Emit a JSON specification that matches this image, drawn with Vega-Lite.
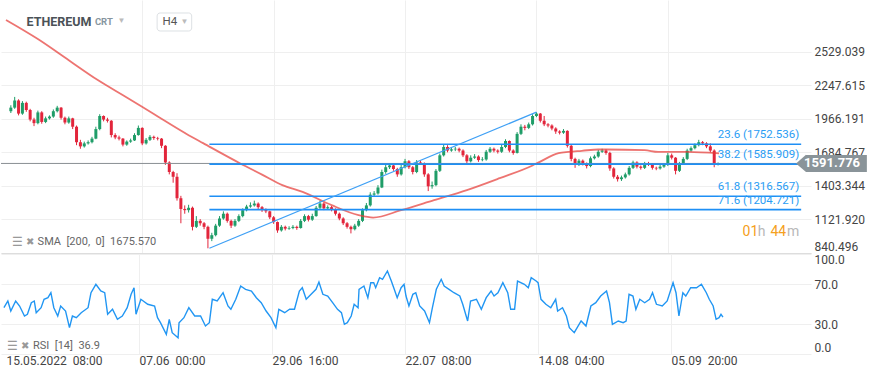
{
"$schema": "https://vega.github.io/schema/vega-lite/v6.json",
"padding": 0,
"background": "white",
"spacing": 0,
"config": {"view": {"stroke": null}, "axis": {"labelFont": "Roboto", "labelFontSize": 12, "labelColor": "#444444", "gridColor": "#efefef", "ticks": false, "domain": false, "labelOverlap": false}, "text": {"font": "Roboto"}},
"datasets": {
"candles": [
{"t":0,"o":2030,"h":2080,"l":2015,"c":2060},{"t":4,"o":2060,"h":2150,"l":2050,"c":2120},{"t":8,"o":2120,"h":2130,"l":1995,"c":2010},{"t":12,"o":2010,"h":2115,"l":2000,"c":2100},{"t":16,"o":2100,"h":2110,"l":2025,"c":2040},{"t":20,"o":2040,"h":2050,"l":1945,"c":1960},{"t":24,"o":1960,"h":1975,"l":1905,"c":1930},{"t":28,"o":1930,"h":2035,"l":1920,"c":2020},{"t":32,"o":2020,"h":2030,"l":1925,"c":1940},{"t":36,"o":1940,"h":1985,"l":1930,"c":1970},{"t":40,"o":1970,"h":1995,"l":1960,"c":1985},{"t":44,"o":1985,"h":2045,"l":1975,"c":2030},{"t":48,"o":2030,"h":2075,"l":2020,"c":2060},{"t":52,"o":2060,"h":2065,"l":1960,"c":1975},{"t":56,"o":1975,"h":1985,"l":1920,"c":1935},{"t":60,"o":1935,"h":1985,"l":1925,"c":1970},{"t":64,"o":1970,"h":1975,"l":1880,"c":1900},{"t":68,"o":1900,"h":1910,"l":1745,"c":1770},{"t":72,"o":1770,"h":1790,"l":1715,"c":1735},{"t":76,"o":1735,"h":1775,"l":1725,"c":1760},{"t":80,"o":1760,"h":1785,"l":1750,"c":1770},{"t":84,"o":1770,"h":1815,"l":1760,"c":1800},{"t":88,"o":1800,"h":1900,"l":1795,"c":1880},{"t":92,"o":1880,"h":2005,"l":1870,"c":1990},{"t":96,"o":1990,"h":1995,"l":1945,"c":1960},{"t":100,"o":1960,"h":1975,"l":1935,"c":1950},{"t":104,"o":1950,"h":1955,"l":1810,"c":1830},{"t":108,"o":1830,"h":1845,"l":1795,"c":1810},{"t":112,"o":1810,"h":1825,"l":1785,"c":1800},{"t":116,"o":1800,"h":1805,"l":1735,"c":1750},{"t":120,"o":1750,"h":1785,"l":1740,"c":1775},{"t":124,"o":1775,"h":1800,"l":1765,"c":1785},{"t":128,"o":1785,"h":1845,"l":1780,"c":1830},{"t":132,"o":1830,"h":1910,"l":1825,"c":1890},{"t":136,"o":1890,"h":1895,"l":1745,"c":1760},{"t":140,"o":1760,"h":1805,"l":1750,"c":1790},{"t":144,"o":1790,"h":1830,"l":1780,"c":1815},{"t":148,"o":1815,"h":1825,"l":1790,"c":1805},{"t":152,"o":1805,"h":1815,"l":1785,"c":1800},{"t":156,"o":1800,"h":1805,"l":1720,"c":1740},{"t":160,"o":1740,"h":1745,"l":1580,"c":1600},{"t":164,"o":1600,"h":1610,"l":1500,"c":1520},{"t":168,"o":1520,"h":1530,"l":1430,"c":1480},{"t":172,"o":1480,"h":1510,"l":1280,"c":1300},{"t":176,"o":1300,"h":1320,"l":1090,"c":1210},{"t":180,"o":1210,"h":1240,"l":1170,"c":1200},{"t":184,"o":1200,"h":1245,"l":1180,"c":1220},{"t":188,"o":1220,"h":1230,"l":1030,"c":1060},{"t":192,"o":1060,"h":1150,"l":1050,"c":1110},{"t":196,"o":1110,"h":1125,"l":1070,"c":1090},{"t":200,"o":1090,"h":1100,"l":1040,"c":1060},{"t":204,"o":1060,"h":1070,"l":880,"c":960},{"t":208,"o":960,"h":1010,"l":940,"c":990},{"t":212,"o":990,"h":1085,"l":980,"c":1070},{"t":216,"o":1070,"h":1150,"l":1060,"c":1130},{"t":220,"o":1130,"h":1190,"l":1120,"c":1170},{"t":224,"o":1170,"h":1180,"l":1095,"c":1110},{"t":228,"o":1110,"h":1120,"l":1050,"c":1070},{"t":232,"o":1070,"h":1125,"l":1060,"c":1110},{"t":236,"o":1110,"h":1165,"l":1100,"c":1150},{"t":240,"o":1150,"h":1215,"l":1140,"c":1200},{"t":244,"o":1200,"h":1245,"l":1190,"c":1230},{"t":248,"o":1230,"h":1265,"l":1220,"c":1240},{"t":252,"o":1240,"h":1280,"l":1230,"c":1255},{"t":256,"o":1255,"h":1265,"l":1210,"c":1225},{"t":260,"o":1225,"h":1235,"l":1185,"c":1200},{"t":264,"o":1200,"h":1215,"l":1175,"c":1190},{"t":268,"o":1190,"h":1195,"l":1125,"c":1140},{"t":272,"o":1140,"h":1150,"l":1085,"c":1100},{"t":276,"o":1100,"h":1105,"l":1010,"c":1030},{"t":280,"o":1030,"h":1075,"l":1020,"c":1060},{"t":284,"o":1060,"h":1070,"l":1030,"c":1045},{"t":288,"o":1045,"h":1065,"l":1035,"c":1050},{"t":292,"o":1050,"h":1075,"l":1040,"c":1060},{"t":296,"o":1060,"h":1070,"l":1035,"c":1050},{"t":300,"o":1050,"h":1125,"l":1045,"c":1110},{"t":304,"o":1110,"h":1165,"l":1100,"c":1150},{"t":308,"o":1150,"h":1160,"l":1105,"c":1120},{"t":312,"o":1120,"h":1170,"l":1110,"c":1150},{"t":316,"o":1150,"h":1235,"l":1145,"c":1220},{"t":320,"o":1220,"h":1280,"l":1210,"c":1255},{"t":324,"o":1255,"h":1265,"l":1200,"c":1215},{"t":328,"o":1215,"h":1240,"l":1205,"c":1225},{"t":332,"o":1225,"h":1235,"l":1190,"c":1205},{"t":336,"o":1205,"h":1215,"l":1155,"c":1170},{"t":340,"o":1170,"h":1180,"l":1115,"c":1130},{"t":344,"o":1130,"h":1140,"l":1075,"c":1090},{"t":348,"o":1090,"h":1100,"l":1045,"c":1060},{"t":352,"o":1060,"h":1070,"l":1005,"c":1040},{"t":356,"o":1040,"h":1085,"l":1030,"c":1070},{"t":360,"o":1070,"h":1125,"l":1060,"c":1110},{"t":364,"o":1110,"h":1215,"l":1100,"c":1200},{"t":368,"o":1200,"h":1260,"l":1190,"c":1240},{"t":372,"o":1240,"h":1350,"l":1230,"c":1330},{"t":376,"o":1330,"h":1360,"l":1315,"c":1340},{"t":380,"o":1340,"h":1410,"l":1330,"c":1390},{"t":384,"o":1390,"h":1540,"l":1385,"c":1520},{"t":388,"o":1520,"h":1585,"l":1505,"c":1560},{"t":392,"o":1560,"h":1595,"l":1545,"c":1575},{"t":396,"o":1575,"h":1585,"l":1530,"c":1545},{"t":400,"o":1545,"h":1555,"l":1480,"c":1500},{"t":404,"o":1500,"h":1580,"l":1490,"c":1560},{"t":408,"o":1560,"h":1630,"l":1550,"c":1610},{"t":412,"o":1610,"h":1620,"l":1545,"c":1560},{"t":416,"o":1560,"h":1570,"l":1500,"c":1520},{"t":420,"o":1520,"h":1620,"l":1510,"c":1600},{"t":424,"o":1600,"h":1615,"l":1580,"c":1590},{"t":428,"o":1590,"h":1600,"l":1480,"c":1500},{"t":432,"o":1500,"h":1510,"l":1360,"c":1400},{"t":436,"o":1400,"h":1440,"l":1380,"c":1410},{"t":440,"o":1410,"h":1545,"l":1400,"c":1530},{"t":444,"o":1530,"h":1675,"l":1520,"c":1660},{"t":448,"o":1660,"h":1750,"l":1650,"c":1730},{"t":452,"o":1730,"h":1745,"l":1685,"c":1700},{"t":456,"o":1700,"h":1730,"l":1690,"c":1710},{"t":460,"o":1710,"h":1730,"l":1695,"c":1715},{"t":464,"o":1715,"h":1725,"l":1685,"c":1700},{"t":468,"o":1700,"h":1710,"l":1645,"c":1660},{"t":472,"o":1660,"h":1670,"l":1590,"c":1610},{"t":476,"o":1610,"h":1660,"l":1600,"c":1640},{"t":480,"o":1640,"h":1670,"l":1630,"c":1650},{"t":484,"o":1650,"h":1660,"l":1605,"c":1620},{"t":488,"o":1620,"h":1645,"l":1610,"c":1625},{"t":492,"o":1625,"h":1705,"l":1615,"c":1690},{"t":496,"o":1690,"h":1730,"l":1680,"c":1715},{"t":500,"o":1715,"h":1725,"l":1685,"c":1700},{"t":504,"o":1700,"h":1710,"l":1675,"c":1690},{"t":508,"o":1690,"h":1750,"l":1680,"c":1730},{"t":512,"o":1730,"h":1795,"l":1720,"c":1780},{"t":516,"o":1780,"h":1785,"l":1685,"c":1700},{"t":520,"o":1700,"h":1710,"l":1665,"c":1680},{"t":524,"o":1680,"h":1855,"l":1675,"c":1840},{"t":528,"o":1840,"h":1920,"l":1830,"c":1900},{"t":532,"o":1900,"h":1915,"l":1870,"c":1890},{"t":536,"o":1890,"h":1935,"l":1880,"c":1920},{"t":540,"o":1920,"h":2005,"l":1910,"c":1990},{"t":544,"o":1990,"h":2022,"l":1980,"c":2010},{"t":548,"o":2010,"h":2015,"l":1935,"c":1950},{"t":552,"o":1950,"h":1990,"l":1905,"c":1920},{"t":556,"o":1920,"h":1930,"l":1895,"c":1910},{"t":560,"o":1910,"h":1920,"l":1870,"c":1885},{"t":564,"o":1885,"h":1895,"l":1840,"c":1860},{"t":568,"o":1860,"h":1870,"l":1835,"c":1850},{"t":572,"o":1850,"h":1880,"l":1840,"c":1865},{"t":576,"o":1865,"h":1870,"l":1725,"c":1740},{"t":580,"o":1740,"h":1750,"l":1610,"c":1630},{"t":584,"o":1630,"h":1640,"l":1555,"c":1580},{"t":588,"o":1580,"h":1630,"l":1570,"c":1615},{"t":592,"o":1615,"h":1625,"l":1575,"c":1590},{"t":596,"o":1590,"h":1600,"l":1550,"c":1570},{"t":600,"o":1570,"h":1650,"l":1560,"c":1635},{"t":604,"o":1635,"h":1665,"l":1625,"c":1650},{"t":608,"o":1650,"h":1705,"l":1640,"c":1690},{"t":612,"o":1690,"h":1715,"l":1680,"c":1700},{"t":616,"o":1700,"h":1710,"l":1665,"c":1680},{"t":620,"o":1680,"h":1690,"l":1530,"c":1550},{"t":624,"o":1550,"h":1560,"l":1465,"c":1480},{"t":628,"o":1480,"h":1495,"l":1440,"c":1460},{"t":632,"o":1460,"h":1490,"l":1445,"c":1475},{"t":636,"o":1475,"h":1515,"l":1465,"c":1500},{"t":640,"o":1500,"h":1570,"l":1490,"c":1555},{"t":644,"o":1555,"h":1615,"l":1545,"c":1600},{"t":648,"o":1600,"h":1610,"l":1550,"c":1565},{"t":652,"o":1565,"h":1575,"l":1540,"c":1555},{"t":656,"o":1555,"h":1605,"l":1545,"c":1590},{"t":660,"o":1590,"h":1605,"l":1570,"c":1585},{"t":664,"o":1585,"h":1595,"l":1540,"c":1555},{"t":668,"o":1555,"h":1565,"l":1535,"c":1550},{"t":672,"o":1550,"h":1580,"l":1540,"c":1565},{"t":676,"o":1565,"h":1595,"l":1555,"c":1580},{"t":680,"o":1580,"h":1680,"l":1570,"c":1660},{"t":684,"o":1660,"h":1675,"l":1625,"c":1640},{"t":688,"o":1640,"h":1645,"l":1500,"c":1530},{"t":692,"o":1530,"h":1605,"l":1520,"c":1590},{"t":696,"o":1590,"h":1645,"l":1580,"c":1630},{"t":700,"o":1630,"h":1715,"l":1620,"c":1700},{"t":704,"o":1700,"h":1735,"l":1690,"c":1720},{"t":708,"o":1720,"h":1760,"l":1710,"c":1745},{"t":712,"o":1745,"h":1790,"l":1735,"c":1770},{"t":716,"o":1770,"h":1780,"l":1745,"c":1760},{"t":720,"o":1760,"h":1770,"l":1720,"c":1735},{"t":724,"o":1735,"h":1760,"l":1685,"c":1700},{"t":728,"o":1700,"h":1710,"l":1560,"c":1580},{"t":732,"o":1580,"h":1600,"l":1575,"c":1592}
],
"sma": [
{"t":-5,"v":2795},{"t":28,"v":2635},{"t":60,"v":2457},{"t":90,"v":2291},{"t":120,"v":2145},{"t":148,"v":2006},{"t":184,"v":1829},{"t":199,"v":1762},{"t":237,"v":1594},{"t":260,"v":1498},{"t":281,"v":1410},{"t":302,"v":1353},{"t":332,"v":1242},{"t":360,"v":1158},{"t":375,"v":1138},{"t":404,"v":1200},{"t":438,"v":1284},{"t":472,"v":1368},{"t":506,"v":1468},{"t":540,"v":1575},{"t":547,"v":1603},{"t":567,"v":1678},{"t":577,"v":1689},{"t":591,"v":1698},{"t":608,"v":1709},{"t":616,"v":1709},{"t":656,"v":1703},{"t":670,"v":1689},{"t":700,"v":1689},{"t":733,"v":1676}
],
"rsi": [
{"t":-2,"r":46.3},{"t":2,"r":53},{"t":5,"r":43},{"t":10,"r":53},{"t":14,"r":48},{"t":19,"r":38},{"t":22,"r":39.7},{"t":26,"r":51.3},{"t":29,"r":53},{"t":31,"r":41.3},{"t":36,"r":46.3},{"t":39,"r":54.7},{"t":43,"r":56.3},{"t":46,"r":61.3},{"t":49,"r":46.3},{"t":53,"r":38},{"t":56,"r":48},{"t":61,"r":43},{"t":65,"r":26.3},{"t":68,"r":38},{"t":72,"r":36.3},{"t":77,"r":41.3},{"t":84,"r":46.3},{"t":87,"r":61.3},{"t":92,"r":69.7},{"t":97,"r":63},{"t":101,"r":61.3},{"t":104,"r":39.7},{"t":109,"r":44.7},{"t":114,"r":34.7},{"t":119,"r":38},{"t":124,"r":46.3},{"t":128,"r":59.7},{"t":131,"r":66.3},{"t":133,"r":39.7},{"t":138,"r":54.7},{"t":145,"r":49.7},{"t":152,"r":48},{"t":155,"r":36.3},{"t":158,"r":31.3},{"t":164,"r":19.7},{"t":167,"r":34.7},{"t":170,"r":21.3},{"t":176,"r":16.3},{"t":177,"r":31.3},{"t":182,"r":36.3},{"t":187,"r":46.3},{"t":193,"r":38},{"t":199,"r":38},{"t":204,"r":28},{"t":208,"r":31.3},{"t":211,"r":54.7},{"t":216,"r":53},{"t":222,"r":61.3},{"t":227,"r":48},{"t":230,"r":44.7},{"t":235,"r":54.7},{"t":240,"r":68},{"t":245,"r":64.7},{"t":251,"r":63},{"t":256,"r":56.3},{"t":261,"r":51.3},{"t":266,"r":43},{"t":271,"r":36.3},{"t":276,"r":26.3},{"t":279,"r":44.7},{"t":285,"r":41.3},{"t":290,"r":44.7},{"t":295,"r":44.7},{"t":300,"r":63},{"t":303,"r":66.3},{"t":307,"r":54.7},{"t":312,"r":59.7},{"t":317,"r":64.7},{"t":320,"r":72},{"t":324,"r":59.7},{"t":329,"r":58},{"t":334,"r":51.3},{"t":339,"r":44.7},{"t":343,"r":41.3},{"t":346,"r":29.7},{"t":349,"r":31.3},{"t":353,"r":38},{"t":356,"r":49.7},{"t":360,"r":46.3},{"t":361,"r":64.7},{"t":366,"r":68},{"t":370,"r":56.3},{"t":373,"r":71.3},{"t":376,"r":71.3},{"t":378,"r":66.3},{"t":382,"r":76.3},{"t":385,"r":74.7},{"t":390,"r":83},{"t":394,"r":73},{"t":397,"r":64.7},{"t":400,"r":56.3},{"t":404,"r":66.3},{"t":407,"r":69.7},{"t":409,"r":58},{"t":412,"r":48},{"t":416,"r":59.7},{"t":419,"r":61.3},{"t":423,"r":48},{"t":428,"r":43},{"t":433,"r":31.3},{"t":436,"r":46.3},{"t":440,"r":64.7},{"t":445,"r":74.7},{"t":448,"r":68},{"t":453,"r":64.7},{"t":458,"r":61.3},{"t":464,"r":58},{"t":467,"r":49.7},{"t":472,"r":33},{"t":475,"r":53},{"t":481,"r":54.7},{"t":486,"r":44.7},{"t":491,"r":56.3},{"t":496,"r":63},{"t":499,"r":58},{"t":503,"r":61.3},{"t":508,"r":71.3},{"t":513,"r":61.3},{"t":516,"r":44.7},{"t":520,"r":44.7},{"t":523,"r":73},{"t":530,"r":69.7},{"t":534,"r":66.3},{"t":537,"r":76.3},{"t":542,"r":73},{"t":544,"r":71.3},{"t":547,"r":54.7},{"t":552,"r":49.7},{"t":557,"r":46.3},{"t":562,"r":54.7},{"t":564,"r":43},{"t":569,"r":46.3},{"t":573,"r":38},{"t":576,"r":26.3},{"t":581,"r":21.3},{"t":588,"r":33},{"t":593,"r":28},{"t":598,"r":48},{"t":603,"r":51.3},{"t":608,"r":58},{"t":614,"r":63},{"t":617,"r":51.3},{"t":620,"r":29.7},{"t":626,"r":33},{"t":631,"r":31.3},{"t":634,"r":33},{"t":637,"r":59.7},{"t":641,"r":58},{"t":644,"r":44.7},{"t":648,"r":54.7},{"t":653,"r":51.3},{"t":658,"r":54.7},{"t":661,"r":61.3},{"t":665,"r":49.7},{"t":671,"r":48},{"t":676,"r":53},{"t":682,"r":71.3},{"t":685,"r":61.3},{"t":688,"r":38},{"t":692,"r":61.3},{"t":695,"r":58},{"t":700,"r":66.3},{"t":706,"r":66.3},{"t":711,"r":69.7},{"t":716,"r":61.3},{"t":719,"r":54.7},{"t":723,"r":48},{"t":726,"r":34.7},{"t":729,"r":36.3},{"t":731,"r":39.7},{"t":733,"r":36.9}
],
"fib": [
{"label":"23.6 (1752.536)","price":1752.536},{"label":"38.2 (1585.909)","price":1585.909},{"label":"61.8 (1316.567)","price":1316.567},{"label":"71.6 (1204.721)","price":1204.721}
],
"trend": [{"t":205.5,"p":880.6},{"t":544,"p":2021.9}],
"last": [{"price":1591.776}],
"one": [{}]
},
"vconcat": [
{"width": 810, "height": 253,
"layer": [
{"data": {"name": "candles"}, "mark": {"type": "rule", "strokeWidth": 1},
"encoding": {
"x": {"field": "t", "type": "quantitative", "title": null, "scale": {"domain": [-5, 823], "nice": false, "zero": false}, "axis": {"orient": "bottom", "values": [136, 272, 408, 544, 680], "tickCount": 20, "labels": false, "grid": true, "domain": true, "domainColor": "#dddddd", "minExtent": 0}},
"y": {"field": "l", "type": "quantitative", "title": null, "scale": {"domain": [840.496, 2963], "nice": false, "zero": false}, "axis": {"orient": "right", "values": [840.496, 1121.92, 1403.344, 1684.767, 1966.191, 2247.615, 2529.039], "tickCount": 20, "format": ".3f", "labelFlush": true, "labelPadding": 3, "grid": true, "labelOverlap": false}},
"y2": {"field": "h"},
"color": {"condition": {"test": "datum.c >= datum.o", "value": "#1f9d68"}, "value": "#e2253b"}}},
{"data": {"name": "candles"}, "mark": {"type": "bar", "size": 3},
"encoding": {
"x": {"field": "t", "type": "quantitative"},
"y": {"field": "o", "type": "quantitative"},
"y2": {"field": "c"},
"color": {"condition": {"test": "datum.c >= datum.o", "value": "#1f9d68"}, "value": "#e2253b"}}},
{"data": {"name": "last"}, "mark": {"type": "rule", "color": "#8a8f93", "strokeWidth": 1},
"encoding": {"y": {"field": "price", "type": "quantitative"}}},
{"data": {"name": "sma"}, "mark": {"type": "line", "color": "#e53935", "opacity": 0.7, "strokeWidth": 1.8, "interpolate": "monotone"},
"encoding": {"x": {"field": "t", "type": "quantitative"}, "y": {"field": "v", "type": "quantitative"}}},
{"data": {"name": "fib"}, "mark": {"type": "rule", "color": "#1e8ff5", "strokeWidth": 1.6},
"encoding": {"x": {"datum": 205.5, "type": "quantitative"}, "x2": {"datum": 818}, "y": {"field": "price", "type": "quantitative"}}},
{"data": {"name": "trend"}, "mark": {"type": "line", "color": "#3fa0f5", "strokeWidth": 1.2},
"encoding": {"x": {"field": "t", "type": "quantitative"}, "y": {"field": "p", "type": "quantitative"}}},
{"data": {"name": "fib"}, "mark": {"type": "text", "align": "right", "baseline": "bottom", "dy": -4, "fontSize": 11.5, "color": "#2a9df4"},
"encoding": {"x": {"datum": 816, "type": "quantitative"}, "y": {"field": "price", "type": "quantitative"}, "text": {"field": "label"}}},
{"data": {"name": "one"}, "mark": {"type": "rect", "fill": "white", "stroke": "#dde1e4", "cornerRadius": 3},
"encoding": {"x": {"datum": 151.4, "type": "quantitative"}, "x2": {"datum": 187.2}, "y": {"datum": 2854, "type": "quantitative"}, "y2": {"datum": 2703}}},
{"data": {"name": "one"}, "mark": {"type": "text", "align": "left", "baseline": "middle", "fontSize": 12.5, "fontWeight": "bold", "color": "#4b5257", "text": "ETHEREUM"},
"encoding": {"x": {"datum": 16.2, "type": "quantitative"}, "y": {"datum": 2778, "type": "quantitative"}}},
{"data": {"name": "one"}, "mark": {"type": "text", "align": "left", "baseline": "middle", "fontSize": 9.5, "fontWeight": "bold", "color": "#8796a0", "text": "CRT"},
"encoding": {"x": {"datum": 87, "type": "quantitative"}, "y": {"datum": 2778, "type": "quantitative"}}},
{"data": {"name": "one"}, "mark": {"type": "text", "align": "left", "baseline": "middle", "fontSize": 8, "color": "#bbbbbb", "text": "▼"},
"encoding": {"x": {"datum": 110.5, "type": "quantitative"}, "y": {"datum": 2790, "type": "quantitative"}}},
{"data": {"name": "one"}, "mark": {"type": "text", "align": "left", "baseline": "middle", "fontSize": 11.5, "color": "#555555", "text": "H4"},
"encoding": {"x": {"datum": 157, "type": "quantitative"}, "y": {"datum": 2778, "type": "quantitative"}}},
{"data": {"name": "one"}, "mark": {"type": "text", "align": "left", "baseline": "middle", "fontSize": 8, "color": "#bbbbbb", "text": "▼"},
"encoding": {"x": {"datum": 175.5, "type": "quantitative"}, "y": {"datum": 2778, "type": "quantitative"}}},
{"data": {"name": "one"}, "mark": {"type": "text", "align": "left", "baseline": "middle", "fontSize": 12, "color": "#999999", "text": "☰"},
"encoding": {"x": {"datum": 1.5, "type": "quantitative"}, "y": {"datum": 935, "type": "quantitative"}}},
{"data": {"name": "one"}, "mark": {"type": "text", "align": "left", "baseline": "middle", "fontSize": 10, "color": "#999999", "text": "✖"},
"encoding": {"x": {"datum": 15.5, "type": "quantitative"}, "y": {"datum": 935, "type": "quantitative"}}},
{"data": {"name": "one"}, "mark": {"type": "text", "align": "left", "baseline": "middle", "fontSize": 11, "color": "#666666", "text": "SMA\u00a0 [200,\u00a0 0]\u00a0 1675.570"},
"encoding": {"x": {"datum": 27.7, "type": "quantitative"}, "y": {"datum": 935, "type": "quantitative"}}},
{"data": {"name": "one"}, "mark": {"type": "text", "align": "left", "baseline": "middle", "fontSize": 14, "color": "#f5a020", "text": "01"},
"encoding": {"x": {"datum": 757.3, "type": "quantitative"}, "y": {"datum": 1016, "type": "quantitative"}}},
{"data": {"name": "one"}, "mark": {"type": "text", "align": "left", "baseline": "middle", "fontSize": 14, "color": "#b8b8b8", "text": "h"},
"encoding": {"x": {"datum": 773, "type": "quantitative"}, "y": {"datum": 1016, "type": "quantitative"}}},
{"data": {"name": "one"}, "mark": {"type": "text", "align": "left", "baseline": "middle", "fontSize": 14, "color": "#f5a020", "text": "44"},
"encoding": {"x": {"datum": 786.2, "type": "quantitative"}, "y": {"datum": 1016, "type": "quantitative"}}},
{"data": {"name": "one"}, "mark": {"type": "text", "align": "left", "baseline": "middle", "fontSize": 14, "color": "#b8b8b8", "text": "m"},
"encoding": {"x": {"datum": 803.3, "type": "quantitative"}, "y": {"datum": 1016, "type": "quantitative"}}},
{"data": {"name": "one"}, "mark": {"type": "rect", "fill": "#8a9499"},
"encoding": {"x": {"datum": 823, "type": "quantitative"}, "x2": {"datum": 886}, "y": {"datum": 1663, "type": "quantitative"}, "y2": {"datum": 1520}}},
{"data": {"name": "one"}, "mark": {"type": "point", "shape": "M-1.15,0L0,-1L0,1Z", "size": 300, "filled": true, "fill": "#8a9499", "opacity": 1, "strokeWidth": 0},
"encoding": {"x": {"datum": 823, "type": "quantitative"}, "y": {"datum": 1591.776, "type": "quantitative"}}},
{"data": {"name": "one"}, "mark": {"type": "text", "align": "center", "baseline": "middle", "fontSize": 13, "fontWeight": "bold", "color": "white", "text": "1591.776"},
"encoding": {"x": {"datum": 850, "type": "quantitative"}, "y": {"datum": 1591.776, "type": "quantitative"}}}
]},
{"width": 810, "height": 100,
"layer": [
{"data": {"name": "rsi"}, "mark": {"type": "line", "color": "#2196f3", "strokeWidth": 1.4},
"encoding": {
"x": {"field": "t", "type": "quantitative", "title": null, "scale": {"domain": [-5, 823], "nice": false, "zero": false}, "axis": {"orient": "bottom", "values": [0, 136, 272, 408, 544, 680], "tickCount": 20, "labelAlign": "left", "labelPadding": 1, "grid": true, "gridOpacity": {"condition": {"test": "datum.value === 0", "value": 0}, "value": 1}, "labelExpr": "datum.value == 0 ? '15.05.2022\u00a0 08:00' : datum.value == 136 ? '07.06\u00a0 00:00' : datum.value == 272 ? '29.06\u00a0 16:00' : datum.value == 408 ? '22.07\u00a0 08:00' : datum.value == 544 ? '14.08\u00a0 04:00' : '05.09\u00a0 20:00'"}},
"y": {"field": "r", "type": "quantitative", "title": null, "scale": {"domain": [0, 100], "nice": false, "zero": false}, "axis": {"orient": "right", "values": [0, 30, 70, 100], "tickCount": 10, "format": ".1f", "labelPadding": 3, "grid": true, "labelOverlap": false, "labelFlush": true}}}},
{"data": {"name": "one"}, "mark": {"type": "text", "align": "left", "baseline": "middle", "fontSize": 12, "color": "#999999", "text": "☰"},
"encoding": {"x": {"datum": 1.5, "type": "quantitative"}, "y": {"datum": 8, "type": "quantitative"}}},
{"data": {"name": "one"}, "mark": {"type": "text", "align": "left", "baseline": "middle", "fontSize": 10, "color": "#999999", "text": "✖"},
"encoding": {"x": {"datum": 15.5, "type": "quantitative"}, "y": {"datum": 8, "type": "quantitative"}}},
{"data": {"name": "one"}, "mark": {"type": "text", "align": "left", "baseline": "middle", "fontSize": 11, "color": "#666666", "text": "RSI\u00a0 [14]\u00a0 36.9"},
"encoding": {"x": {"datum": 27.7, "type": "quantitative"}, "y": {"datum": 8, "type": "quantitative"}}}
]}
]
}
